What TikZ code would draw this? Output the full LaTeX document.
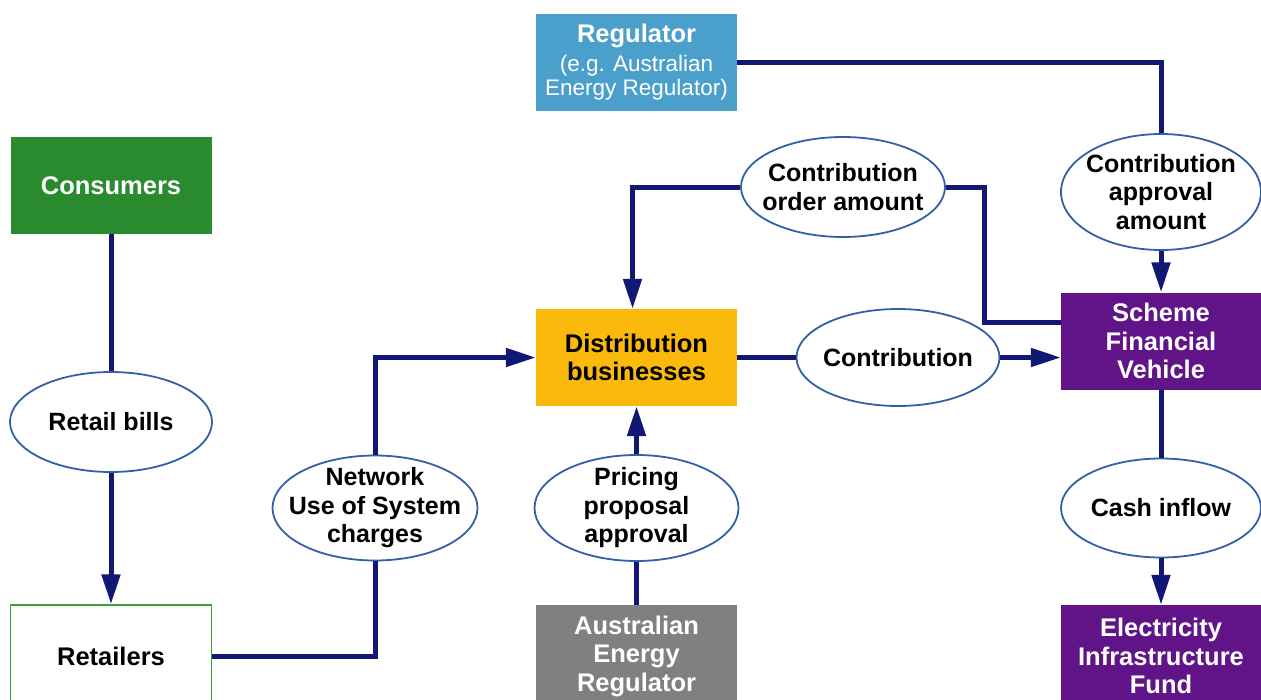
\documentclass[tikz,border=0pt]{standalone}
\usepackage{fontspec}
\setmainfont{Liberation Sans}
\usetikzlibrary{shapes.geometric,arrows.meta}
\definecolor{regblue}{RGB}{74,160,203}
\definecolor{consgreen}{RGB}{42,138,46}
\definecolor{retgreen}{RGB}{60,160,60}
\definecolor{distyellow}{RGB}{251,185,12}
\definecolor{sfvpurple}{RGB}{96,20,136}
\definecolor{aergray}{RGB}{128,128,128}
\definecolor{navyline}{RGB}{16,24,116}
\definecolor{ovalblue}{RGB}{50,96,168}
\begin{document}
\begin{tikzpicture}[x=1pt,y=-1pt,
  box/.style={rectangle, minimum width=201pt, minimum height=97pt, inner sep=0pt, align=center,
    font=\fontsize{25.5}{28.5}\selectfont\bfseries},
  oval/.style={ellipse, draw=ovalblue, line width=1.8pt, fill=white, inner xsep=-45pt, inner ysep=-35pt,
    align=center, font=\fontsize{25}{28.5}\selectfont\bfseries},
  conn/.style={draw=navyline, line width=5pt},
  arr/.style={conn, -{Triangle[length=30pt,width=18pt]}}]
\useasboundingbox (0,0) rectangle (1261,699);
\clip (0,0) rectangle (1261,699);
% boxes
\node[box, fill=regblue, text=white] (reg) at (636.5,62)
  {Regulator\\[1pt]{\fontsize{22.5}{23}\selectfont\mdseries (e.g. Australian}\\[-5pt]{\fontsize{22.5}{23}\selectfont\mdseries Energy Regulator)}};
\node[box, fill=consgreen, text=white] (cons) at (111,185.5) {Consumers};
\node[box, fill=white, draw=retgreen, line width=1.5pt, minimum height=102pt] (ret) at (111,656) {Retailers};
\node[box, fill=distyellow, text=black] (dist) at (636.5,357.5) {Distribution\\businesses};
\node[box, fill=sfvpurple, text=white, minimum width=200pt] (sfv) at (1161,341) {Scheme\\Financial\\Vehicle};
\node[box, fill=sfvpurple, text=white, minimum width=200pt, minimum height=102pt] (eif) at (1161,656) {Electricity\\Infrastructure\\Fund};
\node[box, fill=aergray, text=white, minimum height=102pt] (aer) at (636.5,656) {Australian\\Energy\\Regulator};
% ovals
\node[oval, minimum width=202pt, minimum height=100pt] (rb) at (111,422) {Retail bills};
\node[oval, minimum width=205pt, minimum height=105pt] (nuos) at (375,508) {Network\\Use of System\\charges};
\node[oval, minimum width=204pt, minimum height=106pt] (ppa) at (636.5,508) {Pricing\\proposal\\approval};
\node[oval, minimum width=203pt, minimum height=97pt] (contr) at (898,357.5) {Contribution};
\node[oval, minimum width=204pt, minimum height=100pt] (coa) at (843,187) {Contribution\\order amount};
\node[oval, minimum width=200pt, minimum height=116pt] (caa) at (1161,192) {Contribution\\approval\\amount};
\node[oval, minimum width=200pt, minimum height=99pt] (cash) at (1161,508) {Cash inflow};
% connectors
\draw[conn] (cons) -- (rb);
\draw[arr] (rb) -- (ret);
\draw[conn] (ret.east) -| (nuos.south);
\draw[arr] (nuos.north) |- (dist.west);
\draw[conn] (aer) -- (ppa);
\draw[arr] (ppa) -- (dist);
\draw[conn] (dist) -- (contr);
\draw[arr] (contr.east) -- (contr.east -| sfv.west);
\draw[conn] ([yshift=19pt]sfv.west) -- ++(-76,0) |- (coa.east);
\draw[arr] (coa.west) -| ([xshift=-4pt]dist.north);
\draw[conn] (reg.east) -| (caa.north);
\draw[arr] (caa) -- (sfv);
\draw[conn] (sfv) -- (cash);
\draw[arr] (cash) -- (eif);
\end{tikzpicture}
\end{document}
